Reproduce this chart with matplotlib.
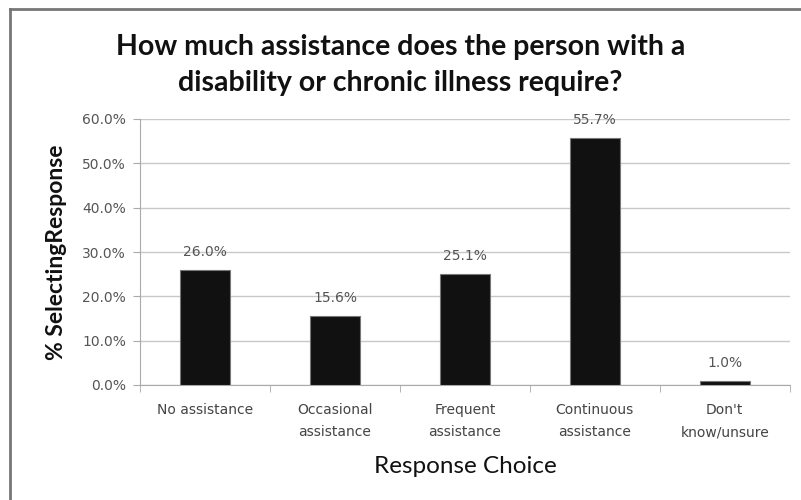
#
# Bar chart: level of assistance required
#

import numpy as np
import matplotlib.pyplot as plt
from matplotlib.lines import Line2D
from matplotlib.ticker import PercentFormatter, FixedLocator

plt.rcParams.update(
    {
        "font.family": ["Lato", "DejaVu Sans"],
        "font.size": 10,
    }
)

categories = [
    "No assistance",
    "Occasional\nassistance",
    "Frequent\nassistance",
    "Continuous\nassistance",
    "Don't\nknow/unsure",
]
values = [26.0, 15.6, 25.1, 55.7, 1.0]

grey = "#555555"
small = {"family": "DejaVu Sans", "size": 10}

fig = plt.figure(figsize=(8.01, 5.0), dpi=100)
ax = fig.add_axes([0.1748, 0.23, 0.8112, 0.532])

x = np.arange(len(categories))
ax.bar(x, values, width=0.38, color="#111111", edgecolor="#777777", linewidth=0.8, zorder=3)

for xi, v in zip(x, values):
    ax.text(xi, v + 2.4, "{:.1f}%".format(v), ha="center", va="bottom",
            color=grey, **small)

ax.set_xlim(-0.5, len(categories) - 0.5)
ax.set_ylim(0, 60)
ax.set_yticks(np.arange(0, 61, 10))
ax.yaxis.set_major_formatter(PercentFormatter(decimals=1))
ax.grid(axis="y", color="#c8c8c8", linewidth=1.0, zorder=0)

ax.set_xticks(x)
ax.set_xticklabels(categories, color="#444444", linespacing=1.75, **small)
for lbl in ax.get_yticklabels():
    lbl.set_fontfamily("DejaVu Sans")
ax.xaxis.set_minor_locator(FixedLocator(np.arange(-0.5, len(categories), 1.0)))
ax.tick_params(axis="x", which="major", length=0, pad=13)
ax.tick_params(axis="x", which="minor", length=5, color="#aaaaaa")
ax.tick_params(axis="y", length=5, color="#aaaaaa", labelsize=10, labelcolor=grey, pad=5)

for side in ["top", "right"]:
    ax.spines[side].set_visible(False)
for side in ["left", "bottom"]:
    ax.spines[side].set_color("#aaaaaa")

ax.set_xlabel("Response Choice", fontsize=17.5, labelpad=12, color="#111111")
ax.set_ylabel("% SelectingResponse", fontsize=16.5, fontweight="bold", labelpad=11, color="#111111")

fig.text(0.5, 0.870, "How much assistance does the person with a\ndisability or chronic illness require?",
         ha="center", va="center", fontsize=20.5, fontweight="bold", linespacing=1.5, color="#111111")

# chart frame
fig.add_artist(Line2D([0.013, 1.0], [0.982, 0.982], color="#777777", linewidth=2))
fig.add_artist(Line2D([0.013, 0.013], [0.0, 0.982], color="#777777", linewidth=2))

fig.savefig("out.png", dpi=100)
